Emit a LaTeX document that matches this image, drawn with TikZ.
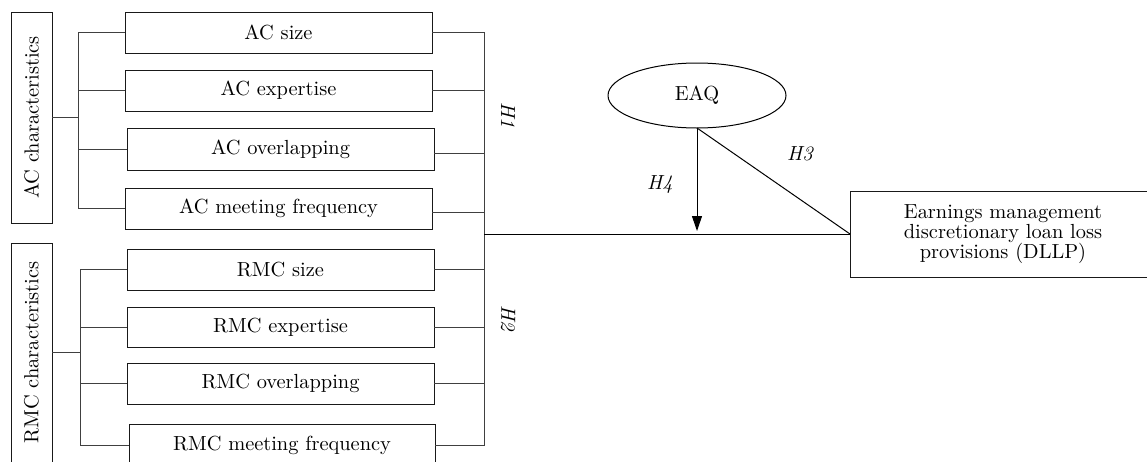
\documentclass[tikz,border=0pt]{standalone}
\usetikzlibrary{shapes.geometric,arrows.meta}
\begin{document}
\begin{tikzpicture}[x=0.5pt,y=-0.5pt, line width=0.5pt,
  box/.style={draw=black!90, rectangle, minimum width=153.5pt, minimum height=20.5pt, inner sep=0pt, outer sep=0pt, font=\fontsize{10.2}{12}\selectfont},
  charbox/.style={draw=black!90, rectangle, minimum height=20.5pt, inner sep=0pt, outer sep=0pt, rotate=90, font=\fontsize{10.2}{12}\selectfont},
  conn/.style={draw=black!75},
  hyp/.style={font=\fontsize{10.2}{12}\selectfont\itshape, inner sep=0pt}]
\useasboundingbox (0,0) rectangle (1147,461);
\clip (0,0) rectangle (1147,461);

% characteristic boxes
\node[charbox, minimum width=105.5pt] (acc) at (31.5,117.5) {AC characteristics};
\node[charbox, minimum width=109.5pt] (rmcc) at (31.5,352.5) {RMC characteristics};

% AC boxes
\node[box] (acsize) at (278.5,32.5) {AC size};
\node[box] (acexp) at (278.5,90.5) {AC expertise};
\node[box, minimum height=21pt] (acover) at (280.5,149) {AC overlapping};
\node[box] (acmeet) at (278.5,208.5) {AC meeting frequency};

% RMC boxes
\node[box] (rmcsize) at (280.5,269.5) {RMC size};
\node[box, minimum height=20pt] (rmcexp) at (280.5,327) {RMC expertise};
\node[box] (rmcover) at (280.5,383.5) {RMC overlapping};
\node[box, minimum width=153pt] (rmcmeet) at (282,445) {RMC meeting frequency};

% outcome and moderator
\node[draw=black!90, rectangle, minimum width=153pt, minimum height=43pt, inner sep=0pt, outer sep=0pt, align=center, font=\fontsize{10.2}{10}\selectfont] (dllp) at (1003,234) {Earnings management\\discretionary loan loss\\provisions (DLLP)};
\node[draw, ellipse, minimum width=89pt, minimum height=32.5pt, inner sep=0pt, outer sep=0pt, font=\fontsize{10.2}{12}\selectfont] (eaq) at (697,95.5) {EAQ};

% bracket coordinates
\coordinate (bA) at (78,119);
\coordinate (bB) at (80,352);
\coordinate (bR) at (484,234);

% left brackets AC
\draw[conn] (acc.south) -- (acc.south -| bA);
\draw[conn] (acsize.west) -| (acmeet.west -| bA) -- (acmeet.west);
\draw[conn] (acexp.west) -- (acexp.west -| bA);
\draw[conn] (acover.west) -- (acover.west -| bA);

% left brackets RMC
\draw[conn] (rmcc.south) -- (rmcc.south -| bB);
\draw[conn] (rmcsize.west) -| (rmcmeet.west -| bB) -- (rmcmeet.west);
\draw[conn] (rmcexp.west) -- (rmcexp.west -| bB);
\draw[conn] (rmcover.west) -- (rmcover.west -| bB);

% right bracket
\draw[conn] (acsize.east) -| (rmcmeet.east -| bR) -- (rmcmeet.east);
\draw[conn] (acexp.east) -- (acexp.east -| bR);
\draw[conn] ([yshift=-2pt]acover.east) -- ([yshift=-2pt]acover.east -| bR);
\draw[conn] ([yshift=-1.75pt]acmeet.east) -- ([yshift=-1.75pt]acmeet.east -| bR);
\draw[conn] (rmcsize.east) -- (rmcsize.east -| bR);
\draw[conn] (rmcexp.east) -- (rmcexp.east -| bR);
\draw[conn] (rmcover.east) -- (rmcover.east -| bR);
\draw (bR) -- (dllp.west);

% moderator connectors
\draw[-{Triangle[length=7.5pt,width=5pt]}, shorten >=1.5pt] (eaq.south) -- (eaq.south |- bR);
\draw (eaq.south) -- (dllp.west);

% hypothesis labels
\node[hyp, rotate=-90] (h1) at (508,115) {H1};
\node[hyp, rotate=-90] (h2) at (508,318) {H2};
\node[hyp] (h3) at (800,154) {H3};
\node[hyp] (h4) at (660,185) {H4};
\end{tikzpicture}
\end{document}
